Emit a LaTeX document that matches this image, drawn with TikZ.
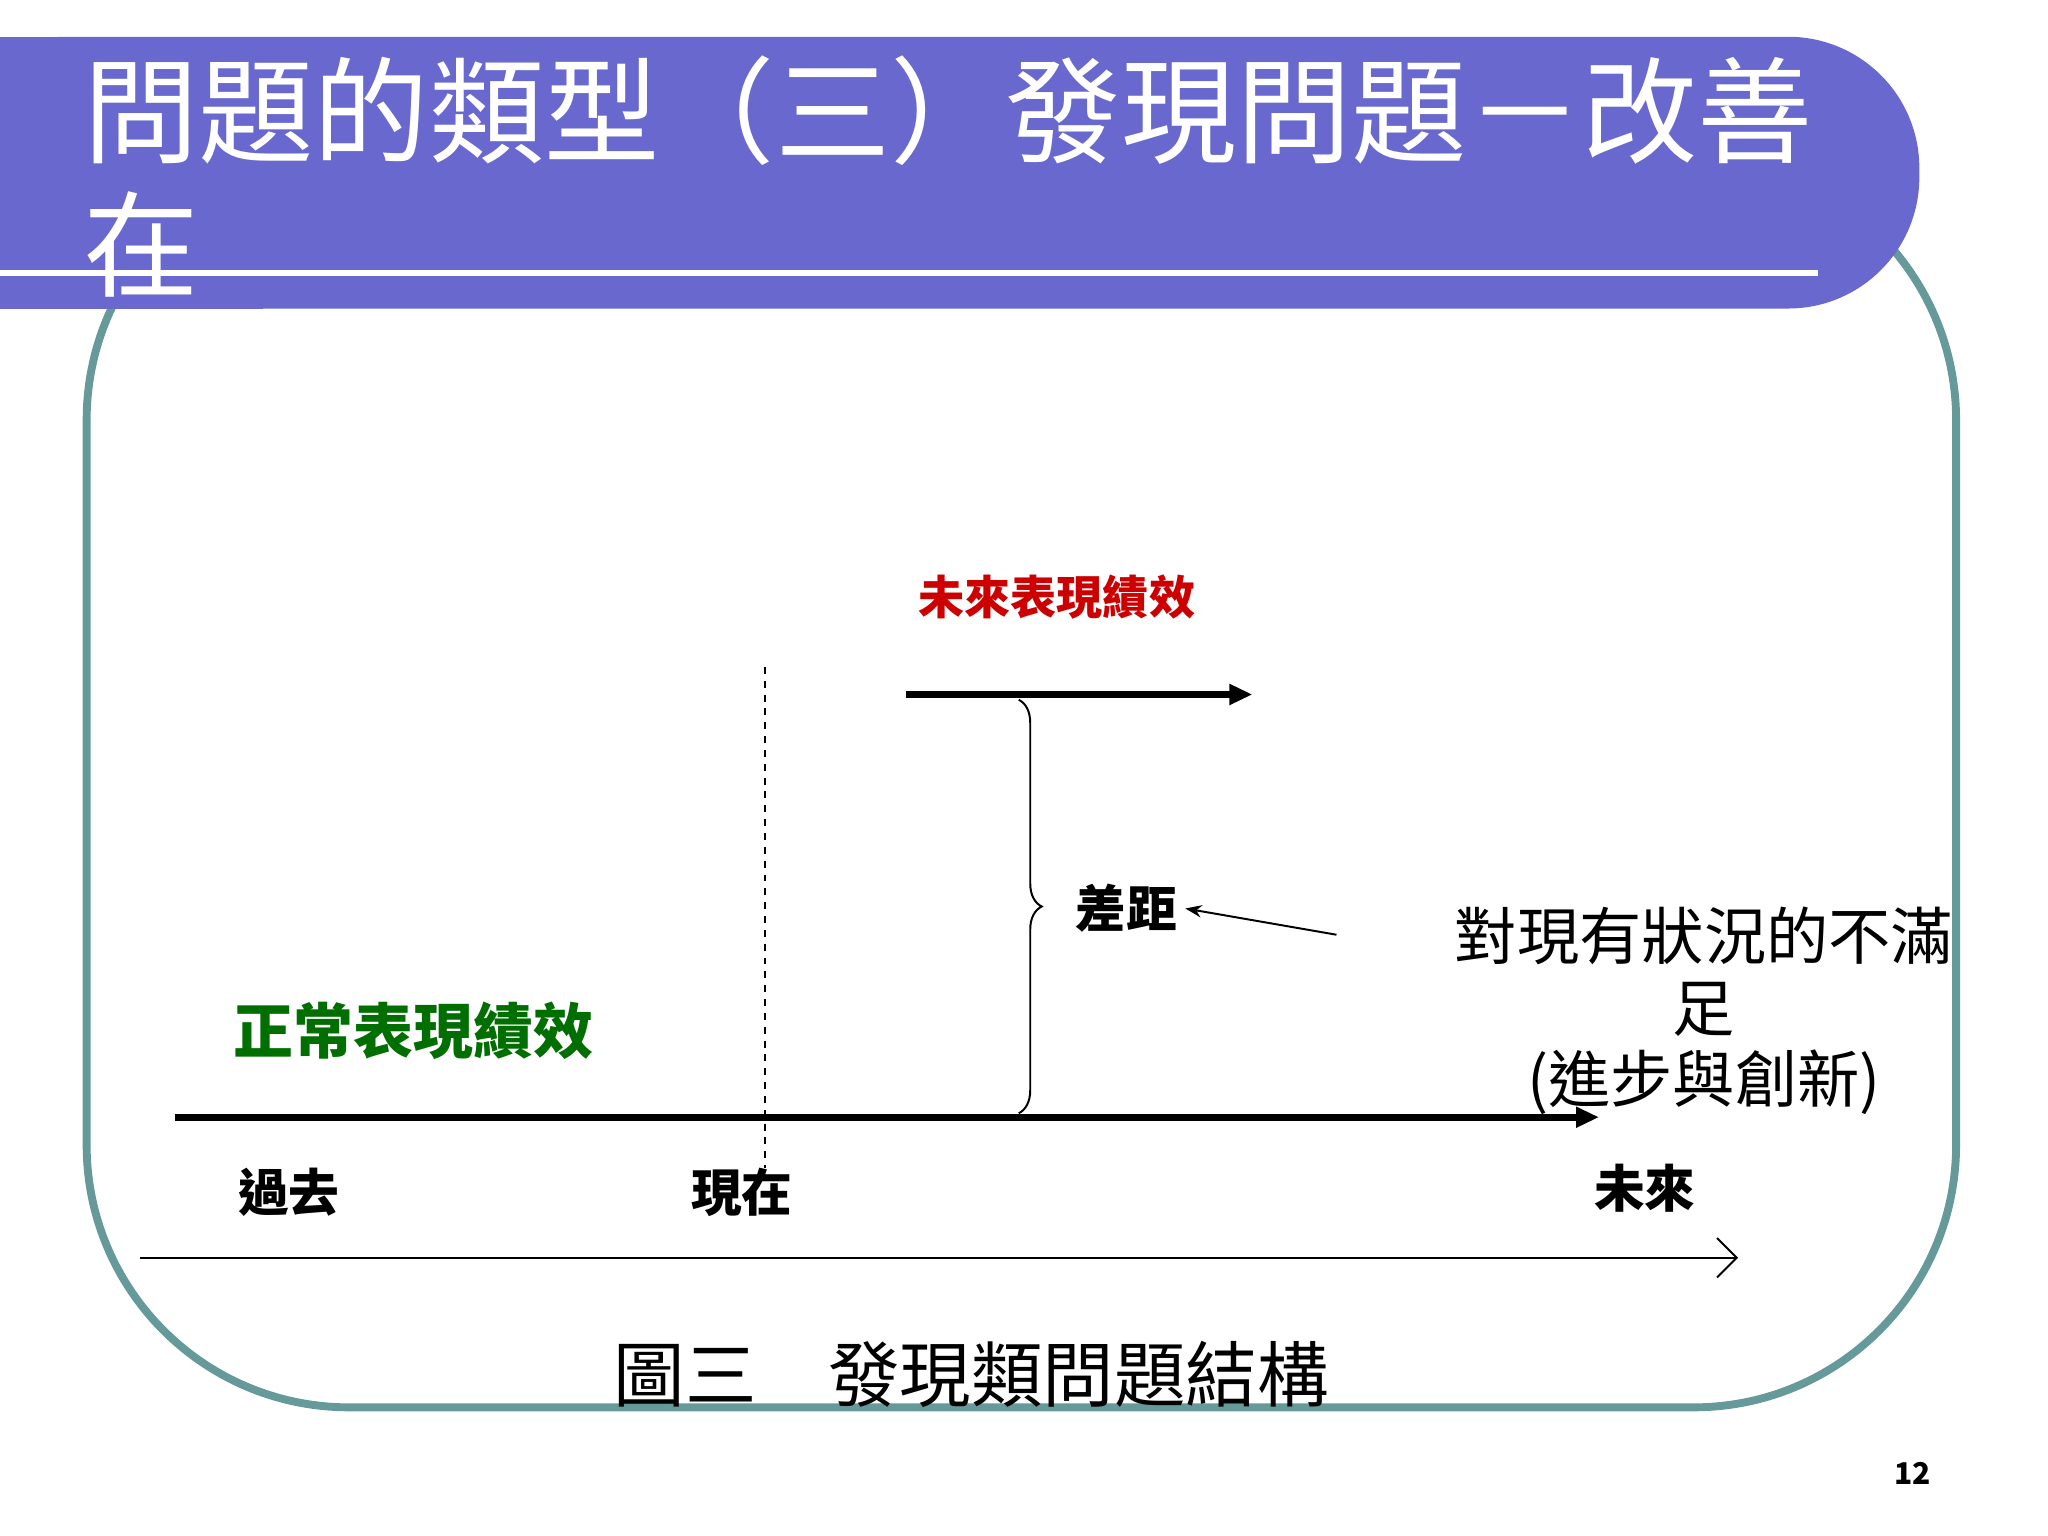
\documentclass[tikz,border=0pt]{standalone}
\usepackage{fontspec}
\setmainfont{Noto Sans CJK TC}
\usetikzlibrary{decorations.pathreplacing,arrows.meta}
\definecolor{bar}{RGB}{104,104,206}
\definecolor{frame}{RGB}{102,153,153}
\definecolor{dred}{RGB}{204,0,0}
\definecolor{dgreen}{RGB}{0,110,0}
\begin{document}
\begin{tikzpicture}[x=0.02cm,y=-0.02cm,
  lab/.style={font=\bfseries\fontsize{22}{24}\selectfont},
  thick5/.style={line width=5*0.02cm}]
\useasboundingbox (0,0) rectangle (1560,1170);
\fill[white] (0,0) rectangle (1560,1170);
% frame
\draw[frame,line width=0.12cm,rounded corners=4cm] (66,120) rectangle (1490,1072);
% title bar
\fill[bar,rounded corners=2cm] (-50,28) rectangle (1462,235);
\fill[bar] (0,28) rectangle (200,235);
\draw[white,line width=0.1cm] (0,208) -- (1385,208);
\node[anchor=base west,white,inner sep=0,font=\fontsize{50}{52}\selectfont] (t1) at (63,118) {問題的類型（三）發現問題－改善};
\node[anchor=base west,white,inner sep=0,font=\fontsize{50}{52}\selectfont] (t2) at (63,220) {在};
% content
\node[dred,font=\bfseries\fontsize{20}{22}\selectfont] (fut) at (805,455) {未來表現績效};
\coordinate (fa) at (690,529); \coordinate (fb) at (954,529);
\draw[thick5,-{Triangle[length=0.35cm,width=0.3cm]}] (fa) -- (fb);
\coordinate (da) at (583,508); \coordinate (db) at (583,890);
\draw[dashed,line width=0.03cm] (da) -- (db);
\coordinate (ba) at (776,533); \coordinate (bb) at (776,848);
\draw[decorate,decoration={brace,amplitude=0.35cm},line width=0.03cm] (ba) -- (bb);
\node[lab] (gap) at (858,692) {差距};
\coordinate (ga) at (1018,712);
\draw[line width=0.03cm,-{Stealth[length=0.25cm]}] (ga) -- (gap.east);
\node[align=center,font=\fontsize{27}{31}\selectfont] (dis) at (1298,770) {對現有狀況的不滿\\足\\(進步與創新)};
\node[dgreen,font=\bfseries\fontsize{26}{28}\selectfont] (norm) at (315,785) {正常表現績效};
\coordinate (na) at (133,851); \coordinate (nb) at (1218,851);
\draw[thick5,-{Triangle[length=0.35cm,width=0.3cm]}] (na) -- (nb);
\node[lab] (past) at (220,908) {過去};
\node[lab] (now) at (565,908) {現在};
\node[lab] (futl) at (1253,905) {未來};
\coordinate (ta) at (107,958); \coordinate (tb) at (1324,958);
\draw[line width=0.03cm,-{Straight Barb[length=0.3cm]}] (ta) -- (tb);
\node[font=\fontsize{31}{33}\selectfont] (cap) at (740,1047) {圖三\quad 發現類問題結構};
\node[font=\bfseries\fontsize{13}{14}\selectfont] (pg) at (1457,1122) {12};
\end{tikzpicture}
\end{document}
